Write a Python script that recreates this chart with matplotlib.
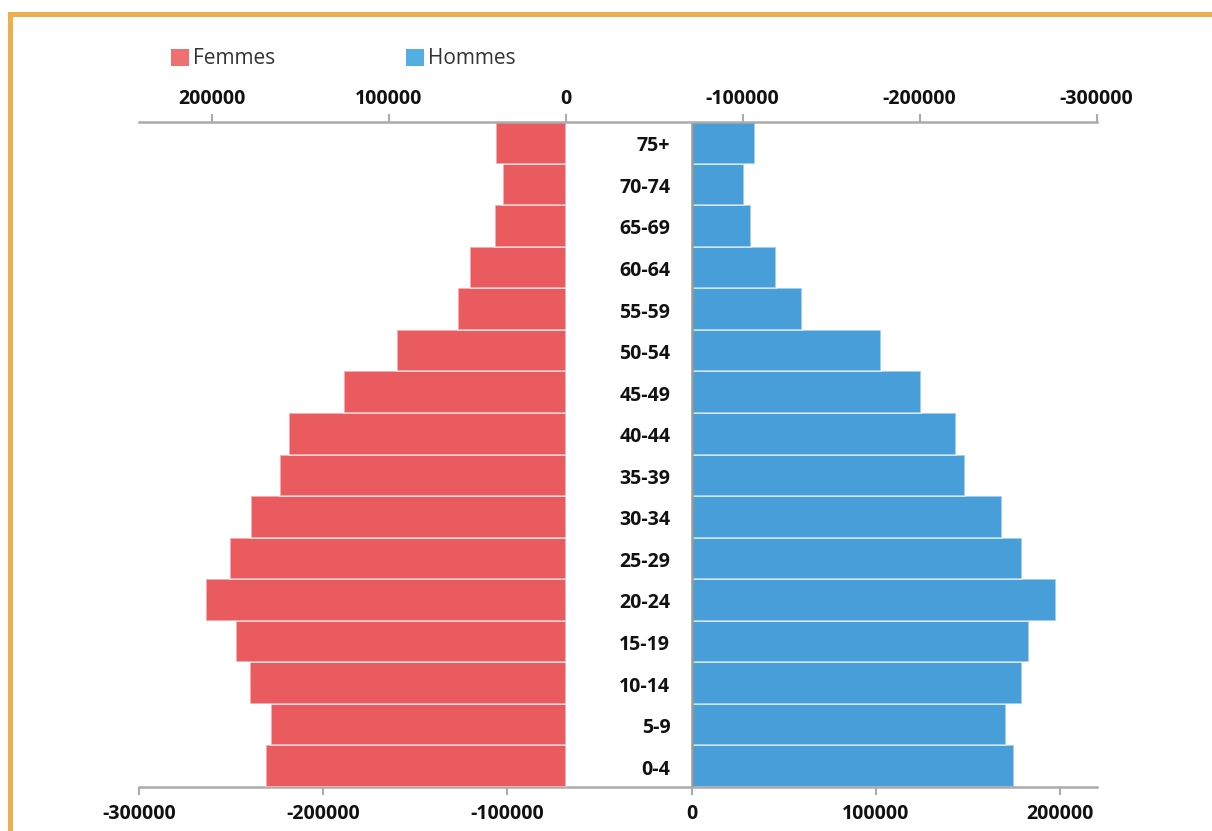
import matplotlib
matplotlib.use("Agg")
import matplotlib.pyplot as plt
from matplotlib.patches import Patch, Rectangle

plt.rcParams['font.family'] = ['Open Sans', 'DejaVu Sans']
plt.rcParams['axes.unicode_minus'] = False

# age groups, bottom to top
ages = ["0-4", "5-9", "10-14", "15-19", "20-24", "25-29", "30-34", "35-39",
        "40-44", "45-49", "50-54", "55-59", "60-64", "65-69", "70-74", "75+"]
femmes = [169600, 166800, 178600, 186200, 203300, 189900, 178100, 161300,
          156200, 125500, 95400, 61100, 54100, 39800, 35700, 39400]
hommes = [174900, 170500, 179200, 183200, 197800, 179200, 168400, 148100,
          143700, 124600, 102800, 59600, 45500, 32100, 28300, 34300]

bottom_ticks = [-300000, -200000, -100000, 0, 100000, 200000]
top_ticks = [200000, 100000, 0, -100000, -200000, -300000]

red = "#EA5B5F"
blue = "#479ED8"
axis_grey = "#ABABAB"

fig = plt.figure(figsize=(12.12, 8.31), dpi=100)
W, H = 1212, 831
ax = fig.add_axes([139 / W, 1 - 787 / H, (1096.7 - 139) / W, (787 - 122) / H])
ax2 = ax.twiny()

y = list(range(len(ages)))

# hommes on the bottom scale, femmes on the reversed top scale
ax.barh(y, hommes, height=1.0, color=blue, edgecolor=(1, 1, 1, 0.6), linewidth=1.2, zorder=2)
ax2.barh(y, femmes, height=1.0, color=red, edgecolor=(1, 1, 1, 0.6), linewidth=1.2, zorder=2)

ax.set_xlim(-300000, 219800)
ax2.set_xlim(241100, -300000)
ax.set_ylim(-0.5, len(ages) - 0.5)

ax.axvline(0, color="#999999", lw=1.8, zorder=3)

for a, ticks, pad in ((ax, bottom_ticks, 6.5), (ax2, top_ticks, 3.5)):
    a.set_xticks(ticks)
    a.set_xticklabels([str(t) for t in ticks], fontsize=14, fontweight="bold", color="#111111")
    a.set_yticks([])
    for s in ("left", "right"):
        a.spines[s].set_visible(False)
    a.tick_params(axis="x", length=6, width=1.5, color=axis_grey, pad=pad)

ax.spines["top"].set_visible(False)
ax.spines["bottom"].set_color(axis_grey)
ax.spines["bottom"].set_linewidth(1.8)
ax2.spines["bottom"].set_visible(False)
ax2.spines["top"].set_color(axis_grey)
ax2.spines["top"].set_linewidth(1.8)

for i, lab in zip(y, ages):
    ax.annotate(lab, xy=(0, i), xytext=(-15.5, -2.5), textcoords="offset points",
                ha="right", va="center", fontsize=14, fontweight="bold", color="#111111")

handles = [Patch(facecolor="#F07070", edgecolor="none", label="Femmes"),
           Patch(facecolor="#55AEE2", edgecolor="none", label="Hommes")]
fig.legend(handles=handles, loc="center left", bbox_to_anchor=(171 / W, 1 - 59 / H),
           ncol=2, frameon=False, fontsize=15, labelcolor="#333333",
           handlelength=0.85, handleheight=0.85, handletextpad=0.2,
           columnspacing=6.3, borderpad=0, borderaxespad=0)

# orange frame on the top and left
orange = "#EFAE4D"
fig.add_artist(Rectangle((8 / W, 1 - 17 / H), 1 - 8 / W, 5 / H, transform=fig.transFigure,
                         color=orange, lw=0))
fig.add_artist(Rectangle((8 / W, 0), 5 / W, 1 - 12 / H, transform=fig.transFigure,
                         color=orange, lw=0))

fig.savefig("out.png", dpi=100)
